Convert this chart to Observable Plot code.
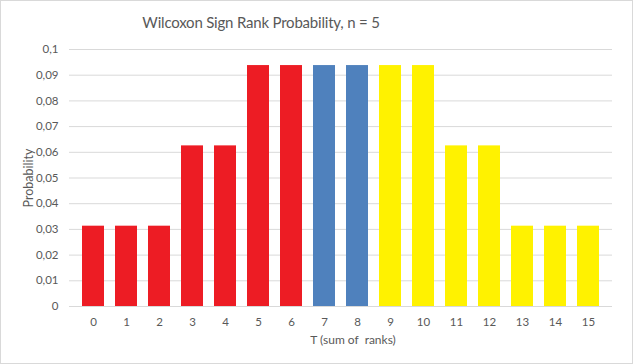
<!DOCTYPE html>
<html>
<head>
<meta charset="utf-8">
<script src="https://cdn.jsdelivr.net/npm/d3@7"></script>
<script src="https://cdn.jsdelivr.net/npm/@observablehq/plot@0.6"></script>
<style>
  html, body { margin: 0; padding: 0; background: #fff; }
  #wrap { position: relative; width: 633px; height: 364px; overflow: hidden; font-family: Lato, "Open Sans", sans-serif; }
  #title { position: absolute; left: 0; top: 13px; width: 522px; text-align: center; font-size: 15px; color: #595959; font-weight: 400; letter-spacing: -0.2px; }
  #chart { position: absolute; left: 0; top: 40px; }
  #border { position: absolute; left: 0; top: 0; width: 631px; height: 362px; border: 1px solid #d9d9d9; pointer-events: none; }
</style>
</head>
<body>
<div id="wrap">
  <div id="title">Wilcoxon Sign Rank Probability, n = 5</div>
  <div id="chart"></div>
  <div id="border"></div>
</div>
<script>
const tValues = [0, 1, 2, 3, 4, 5, 6, 7, 8, 9, 10, 11, 12, 13, 14, 15];
const probabilities = [0.03125, 0.03125, 0.03125, 0.0625, 0.0625, 0.09375, 0.09375, 0.09375, 0.09375, 0.09375, 0.09375, 0.0625, 0.0625, 0.03125, 0.03125, 0.03125];
const groups = ["low", "low", "low", "low", "low", "low", "low", "mid", "mid", "high", "high", "high", "high", "high", "high", "high"];
const groupNames = ["low", "mid", "high"];
const groupColors = ["#ED1C24", "#4F81BD", "#FFF200"];
const yTicks = [0, 0.01, 0.02, 0.03, 0.04, 0.05, 0.06, 0.07, 0.08, 0.09, 0.1];
const xTitle = "T (sum of  ranks)";
const yTitle = "Probability";

const data = tValues.map((t, i) => ({t, p: probabilities[i], g: groups[i]}));
const fmt = v => String(v).replace(".", ",");

const chart = Plot.plot({
  width: 633,
  height: 324,
  marginTop: 9,
  marginBottom: 58,
  marginLeft: 69,
  marginRight: 21,
  style: { fontFamily: "Lato, 'Open Sans', sans-serif", fontSize: "11.5px", color: "#595959", background: "#fff" },
  x: { type: "band", domain: tValues, paddingInner: 0.32, paddingOuter: 0.16 },
  y: { domain: [0, 0.1] },
  color: { domain: groupNames, range: groupColors },
  marks: [
    Plot.gridY(yTicks, { stroke: "#d9d9d9", strokeOpacity: 1 }),
    Plot.barY(data, { x: "t", y: "p", fill: "g" }),
    Plot.axisY(yTicks, { tickSize: 0, tickPadding: 11, tickFormat: fmt, label: null, fill: "#595959" }),
    Plot.axisX({ tickSize: 0, tickPadding: 11, label: null, fill: "#595959" }),
    Plot.text([yTitle], { frameAnchor: "left", textAnchor: "middle", dx: -41, rotate: -90, fill: "#595959", fontSize: 12.5 }),
    Plot.text([xTitle], { frameAnchor: "bottom", textAnchor: "middle", dy: 37, dx: 12, fill: "#595959", fontSize: 12 })
  ]
});
document.getElementById("chart").appendChild(chart);
</script>
</body>
</html>
